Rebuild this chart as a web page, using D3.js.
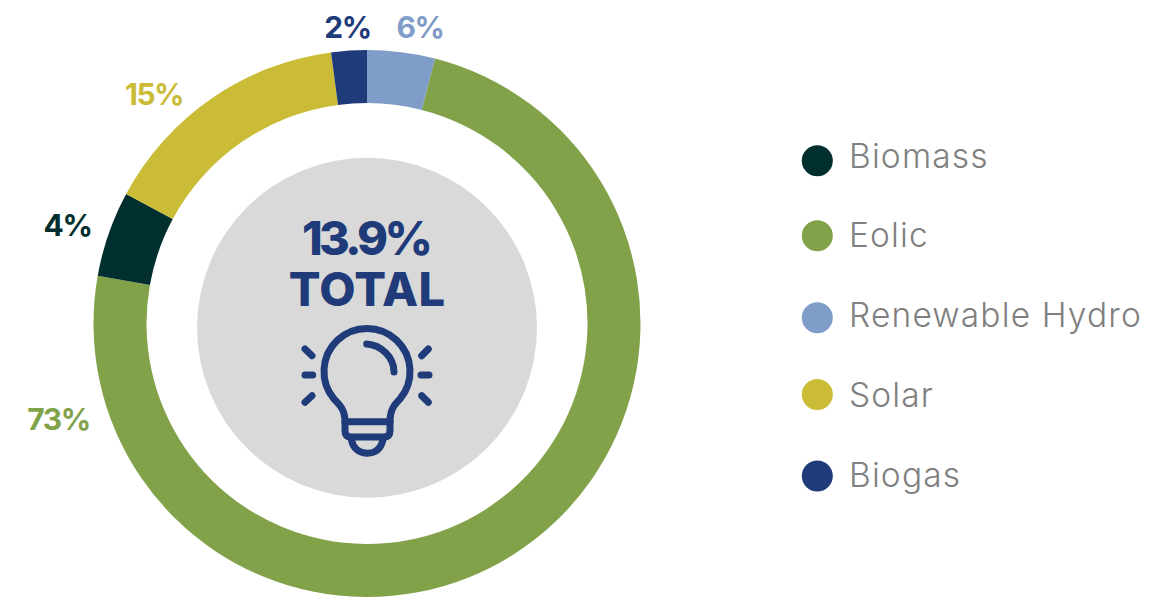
<!DOCTYPE html>
<html><head><meta charset="utf-8">
<script src="https://cdn.jsdelivr.net/npm/d3@7"></script>
<style>html,body{margin:0;padding:0;background:#fff}svg{display:block}text{font-family:Inter,"Noto Sans",sans-serif}</style>
</head><body><svg id="c" width="1154" height="599"></svg>
<script>
// Slice order, clockwise from 12 o'clock
const sliceNames = ["Renewable Hydro","Eolic","Biomass","Solar","Biogas"];
const sliceValues = [4.0,73.8,5.05,15.05,2.1];
const sliceLabels = ["6%","73%","4%","15%","2%"];
const legendNames = ["Biomass","Eolic","Renewable Hydro","Solar","Biogas"];
const centerLines = ["13.9%","TOTAL"];

const colour = d3.scaleOrdinal()
  .domain(["Biomass","Eolic","Renewable Hydro","Solar","Biogas"])
  .range(["#012e2e","#82a24a","#7f9dc8","#cabc36","#1f3b7a"]);

const svg = d3.select("#c");
const cx = 367, cy = 323.5;
const pie = d3.pie().sort(null).value(d => d.v)(sliceNames.map((n,i)=>({n,v:sliceValues[i],l:sliceLabels[i]})));
const arc = d3.arc().innerRadius(220.5).outerRadius(273.5);

svg.append("g").attr("transform",`translate(${cx},${cy})`)
  .selectAll("path").data(pie).join("path")
  .attr("d",arc).attr("fill",d=>colour(d.data.n));

// Slice labels: placed by hand to sit where the reference has them
const labelAt = {"Renewable Hydro":[420,37.7],"Eolic":[58.5,429.5],"Biomass":[67.5,236],"Solar":[154,104.5],"Biogas":[347.5,37.7]};
svg.append("g").selectAll("text").data(pie).join("text")
  .attr("x",d=>labelAt[d.data.n][0]).attr("y",d=>labelAt[d.data.n][1])
  .attr("text-anchor","middle").attr("font-size",30).attr("font-weight",700)
  .attr("letter-spacing",-1.5)
  .attr("fill",d=>colour(d.data.n)).text(d=>d.data.l);

// Centre
svg.append("circle").attr("cx",367).attr("cy",327.7).attr("r",170).attr("fill","#d9d9d9");
const navy = "#1f3b7a";
svg.append("text").attr("x",365.5).attr("y",254.5).attr("text-anchor","middle")
  .attr("font-size",47).attr("font-weight",800).attr("letter-spacing",-3.8).attr("fill",navy).text(centerLines[0]);
svg.append("text").attr("x",367).attr("y",306).attr("text-anchor","middle")
  .attr("font-size",47).attr("font-weight",800).attr("letter-spacing",0.2).attr("fill",navy).text(centerLines[1]);

// Bulb icon
const bulb = svg.append("g").attr("fill","none").attr("stroke",navy).attr("stroke-width",7)
  .attr("stroke-linecap","round").attr("stroke-linejoin","round");
[
 "M345 422C345 410 340 405 334 399A43 43 0 1 1 400 399C394 405 390 410 390 422",
 "M345 421.7H390V431Q390 437 384 437H351Q345 437 345 431Z",
 "M351.5 440C353 448 359 453.2 367.5 453.2C376 453.2 381 448 383 440",
 "M366.7 344C381 345 394 357 394 372",
 "M305 349L312 355.7","M305 375H312.7","M305 402.3L312 395.7",
 "M428.3 349L421.7 355.7","M421 375H429","M421.7 395.7L428.3 402.3"
].forEach(d=>bulb.append("path").attr("d",d));

// Legend
const legendDotY = d3.scaleOrdinal().domain(legendNames).range([160.7,235.8,317.7,394.5,476]);
const legendTextY = d3.scalePoint().domain(legendNames).range([167.7,486.7]);
const lg = svg.append("g").selectAll("g").data(legendNames).join("g");
lg.append("circle").attr("cx",817.3).attr("cy",d=>legendDotY(d)).attr("r",15.5).attr("fill",d=>colour(d));
lg.append("text").attr("x",849).attr("y",d=>legendTextY(d))
  .attr("font-size",33.5).attr("font-weight",300).attr("letter-spacing",1.15).attr("fill","#808080").text(d=>d);
</script></body></html>
